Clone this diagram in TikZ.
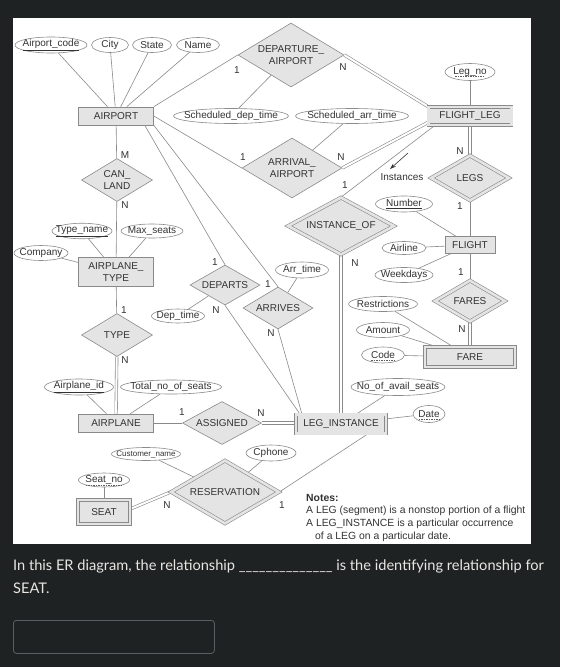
\documentclass[tikz,border=0pt]{standalone}
\usepackage{fontspec}
\setmainfont{Liberation Sans}
\newfontfamily\qfont{Lato}
\usetikzlibrary{shapes.geometric,arrows.meta}
\pgfdeclarelayer{back}
\pgfdeclarelayer{lines}
\pgfsetlayers{back,lines,main}
\definecolor{bgc}{HTML}{1F2223}
\definecolor{ln}{HTML}{8A8A8A}
\definecolor{fl}{HTML}{E4E4E4}
\definecolor{tx}{HTML}{333333}
\definecolor{qt}{HTML}{E8E6E3}
\definecolor{bx}{HTML}{5A5E60}
\newcommand{\zw}[1]{\makebox[0pt]{#1}}
\begin{document}
\begin{tikzpicture}[x=1pt,y=-1pt,
  every node/.style={font=\fontsize{10}{12.5}\selectfont, text=tx},
  ent/.style={rectangle, draw=ln, fill=fl, inner sep=0pt, line width=0.6pt, align=center},
  went/.style={ent, double=fl, double distance=2.6pt},
  rel/.style={diamond, draw=ln, fill=fl, inner sep=0pt, line width=0.6pt, align=center},
  wrel/.style={rel, double=fl, double distance=2.6pt},
  attr/.style={ellipse, draw=ln, fill=white, inner sep=0pt, minimum height=15pt, line width=0.6pt},
  card/.style={inner sep=0pt, font=\fontsize{10}{12}\selectfont},
  con/.style={draw=ln, line width=0.6pt},
  dcon/.style={draw=ln, line width=0.6pt, double=white, double distance=2pt},
  keyul/.style={draw=tx!80, dash pattern=on 1.5pt off 1pt, line width=0.5pt},
  note/.style={anchor=west, inner sep=0pt, font=\fontsize{10.4}{12}\selectfont},
  qtext/.style={anchor=west, inner sep=0pt, text=qt, font=\qfont\fontsize{14.6}{17}\selectfont}
]
\useasboundingbox (0,0) rectangle (560,667);
\begin{pgfonlayer}{back}
\fill[bgc] (0,0) rectangle (560,667);
\fill[white] (13,18) rectangle (531,544);
\end{pgfonlayer}

% attributes top
\node[attr, minimum width=72pt] (acode) at (51,45) {\zw{\underline{Airport\_code}}};
\node[attr, minimum width=37pt] (city) at (110,45) {\zw{City}};
\node[attr, minimum width=39pt] (state) at (152,45) {\zw{State}};
\node[attr, minimum width=43pt] (aname) at (198,45) {\zw{Name}};
\node[ent, minimum width=75pt, minimum height=18pt] (airport) at (116,116) {\zw{AIRPORT}};
\node[rel, minimum width=106pt, minimum height=64pt] (depa) at (291,55) {\zw{DEPARTURE\_}\\\zw{AIRPORT}};
\node[attr, minimum width=115pt] (sdt) at (231,116) {\zw{Scheduled\_dep\_time}};
\node[attr, minimum width=113pt] (sat) at (352,116) {\zw{Scheduled\_arr\_time}};
\node[went, minimum width=83pt, minimum height=18pt] (fleg) at (470,116) {\zw{FLIGHT\_LEG}};
\node[attr, minimum width=50pt, minimum height=17pt] (legno) at (470,72) {\zw{Leg\_no}};
\node[rel, minimum width=100pt, minimum height=60pt] (arra) at (292,168) {\zw{ARRIVAL\_}\\\zw{AIRPORT}};
\node[rel, minimum width=71pt, minimum height=43pt] (canland) at (117,180) {\zw{CAN\_}\\\zw{LAND}};
\node[attr, minimum width=60pt, minimum height=14pt] (tname) at (82,231) {\zw{\underline{Type\_name}}};
\node[attr, minimum width=62pt, minimum height=14pt] (maxs) at (152,231) {\zw{Max\_seats}};
\node[attr, minimum width=54pt] (company) at (41,253) {\zw{Company}};
\node[ent, minimum width=75pt, minimum height=29pt] (aptype) at (116,272) {\zw{AIRPLANE\_}\\\zw{TYPE}};
\node[rel, minimum width=71pt, minimum height=43pt] (type) at (117,335) {\zw{TYPE}};
\node[attr, minimum width=69pt, minimum height=14pt] (apid) at (79,387) {\zw{\underline{Airplane\_id}}};
\node[attr, minimum width=101pt, minimum height=14pt] (tnos) at (171,387) {\zw{Total\_no\_of\_seats}};
\node[ent, minimum width=75pt, minimum height=18pt] (airplane) at (116,423) {\zw{AIRPLANE}};
\node[rel, minimum width=79pt, minimum height=43pt] (assigned) at (222,423) {\zw{ASSIGNED}};
\node[went, minimum width=90pt, minimum height=19pt] (legi) at (341,424) {\zw{LEG\_INSTANCE}};
\node[attr, minimum width=32pt, minimum height=17pt] (date) at (429,414) {\zw{Date}};
\node[attr, minimum width=94pt, minimum height=17pt] (noas) at (398,387) {\zw{No\_of\_avail\_seats}};
\node[went, minimum width=90pt, minimum height=20pt] (fare) at (470,357) {\zw{FARE}};
\node[attr, minimum width=43pt, minimum height=16pt] (code) at (383,355) {\zw{Code}};
\node[attr, minimum width=53pt] (amount) at (383,330) {\zw{Amount}};
\node[attr, minimum width=69pt] (restr) at (383,304) {\zw{Restrictions}};
\node[wrel, minimum width=70pt, minimum height=41pt] (fares) at (470,301) {\zw{FARES}};
\node[ent, minimum width=50pt, minimum height=17pt] (flight) at (470,245) {\zw{FLIGHT}};
\node[attr, minimum width=57pt, minimum height=16pt] (number) at (404,204) {\zw{\underline{Number}}};
\node[attr, minimum width=44pt, minimum height=13pt] (airline) at (404,248) {\zw{Airline}};
\node[attr, minimum width=58pt] (weekdays) at (404,275) {\zw{Weekdays}};
\node[wrel, minimum width=78pt, minimum height=45pt] (legs) at (470,178) {\zw{LEGS}};
\node[wrel, minimum width=106pt, minimum height=57pt] (instof) at (341,226) {\zw{INSTANCE\_OF}};
\node[attr, minimum width=53pt, minimum height=16pt] (arrtime) at (302,270) {\zw{Arr\_time}};
\node[rel, minimum width=70pt, minimum height=40pt] (departs) at (225,285) {\zw{DEPARTS}};
\node[attr, minimum width=53pt, minimum height=14pt] (deptime) at (178,316) {\zw{Dep\_time}};
\node[rel, minimum width=70pt, minimum height=42pt] (arrives) at (278,308) {\zw{ARRIVES}};
\node[attr, minimum width=50pt, minimum height=16pt] (cphone) at (271,453) {\zw{Cphone}};
\node[attr, minimum width=69pt, minimum height=13pt, font=\fontsize{8}{10}\selectfont] (cname) at (146,454) {\zw{Customer\_name}};
\node[wrel, minimum width=108pt, minimum height=63pt] (resv) at (225,492) {\zw{RESERVATION}};
\node[attr, minimum width=51pt, minimum height=14pt] (seatno) at (104,480) {\zw{Seat\_no}};
\node[went, minimum width=52pt, minimum height=24pt] (seat) at (104,512) {\zw{SEAT}};

% partial key underlines
\draw[keyul] ([xshift=-15pt,yshift=-4.5pt]legno.center) -- ([xshift=15pt,yshift=-4.5pt]legno.center);
\draw[keyul] ([xshift=-10.5pt,yshift=-5pt]date.center) -- ([xshift=10.5pt,yshift=-5pt]date.center);
\draw[keyul] ([xshift=-12pt,yshift=-5pt]code.center) -- ([xshift=12pt,yshift=-5pt]code.center);
\draw[keyul] ([xshift=-18.5pt,yshift=-5pt]seatno.center) -- ([xshift=18.5pt,yshift=-5pt]seatno.center);

% cardinalities
\node[card] (k1) at (237,70) {1};
\node[card] (k2) at (343,67) {N};
\node[card] (k3) at (243,157) {1};
\node[card] (k4) at (341,157) {N};
\node[card] (k5) at (125,155) {M};
\node[card] (k6) at (125,205) {N};
\node[card] (k7) at (460,151) {N};
\node[card] (k8) at (460,206) {1};
\node[card] (k9) at (461,272) {1};
\node[card] (k10) at (462,329) {N};
\node[card] (k11) at (345,185) {1};
\node[card] (k12) at (355,263) {N};
\node[card] (k13) at (215,262) {1};
\node[card] (k14) at (216,310) {N};
\node[card] (k15) at (268,284) {1};
\node[card] (k16) at (271,333) {N};
\node[card] (k17) at (124,310) {1};
\node[card] (k18) at (125,360) {N};
\node[card] (k19) at (182,412) {1};
\node[card] (k20) at (261,413) {N};
\node[card] (k21) at (167,505) {N};
\node[card] (k22) at (282,505) {1};

\node[inner sep=0pt] (inst) at (402,177) {Instances};
\coordinate (ia1) at (408,153);
\coordinate (ia2) at (390,169);

% notes
\node[note, font=\bfseries\fontsize{10.4}{12}\selectfont] (notes) at (306,498) {Notes:};
\node[note] (n1) at (306,511) {A LEG (segment) is a nonstop portion of a flight};
\node[note] (n2) at (306,524) {A LEG\_INSTANCE is a particular occurrence};
\node[note] (n3) at (315,537) {of a LEG on a particular date.};

% question
\node[qtext] (q1) at (13,566) {In this ER diagram, the relationship \_\_\_\_\_\_\_\_\_\_\_\_\_\_ is the identifying relationship for};
\node[qtext] (q2) at (13,588) {SEAT.};
\node[draw=bx, line width=0.8pt, rounded corners=3pt, minimum width=201pt, minimum height=33pt, anchor=north west, inner sep=0pt] (ans) at (13,620) {};

\begin{pgfonlayer}{lines}
\draw[con] (acode) -- (airport);
\draw[con] (city) -- (airport);
\draw[con] (state) -- (airport);
\draw[con] (aname) -- (airport);
\draw[con] (airport.north east) -- (depa.west);
\draw[dcon] (depa.east) -- (fleg.north west);
\draw[con] (depa) -- (sdt);
\draw[con] (airport.east) -- (arra.west);
\draw[dcon] (arra.east) -- ([yshift=3pt]fleg.south west);
\draw[con] (arra) -- (sat);
\draw[con] (airport) -- (canland);
\draw[con] (canland) -- (aptype);
\draw[con] ([xshift=-9pt]airport.south east) -- (departs.north);
\draw[con] (airport.south east) -- (arrives.north);
\draw[con] (departs.south) -- ([xshift=-41pt]legi.north);
\draw[con] (arrives.south) -- ([xshift=-39pt]legi.north);
\draw[con] (departs) -- (deptime);
\draw[con] (arrives) -- (arrtime);
\draw[dcon] (fleg) -- (legs);
\draw[con] (legs) -- (flight);
\draw[con] ([xshift=-35pt]fleg.south) -- (instof.north);
\draw[dcon] (instof) -- (legi);
\draw[con] (legno) -- (fleg);
\draw[con] (number) -- (flight);
\draw[con] (airline) -- (flight);
\draw[con] (weekdays) -- (flight);
\draw[con] (flight) -- (fares);
\draw[dcon] (fares) -- (fare);
\draw[con] (restr) -- (fare);
\draw[con] (amount) -- (fare);
\draw[con] (code) -- (fare);
\draw[con] (tname) -- (aptype);
\draw[con] (maxs) -- (aptype);
\draw[con] (company) -- (aptype);
\draw[con] (aptype) -- (type);
\draw[dcon] (type) -- (airplane);
\draw[con] (apid) -- (airplane);
\draw[con] (tnos) -- (airplane);
\draw[con] (airplane) -- (assigned);
\draw[dcon] (assigned.east) -- (assigned.east -| legi.west);
\draw[con] (noas) -- (legi);
\draw[con] (date) -- (legi);
\draw[con] ([xshift=27pt]legi.south) -- (resv.east);
\draw[dcon] (resv.west) -- ([yshift=3pt]seat.east);
\draw[con] (cname) -- (resv);
\draw[con] (cphone) -- (resv);
\draw[con] (seatno) -- (seat);
\draw[draw=tx, line width=0.6pt, -{Stealth[length=6pt,width=4pt]}] (ia1) -- (ia2);
\end{pgfonlayer}
\end{tikzpicture}
\end{document}
